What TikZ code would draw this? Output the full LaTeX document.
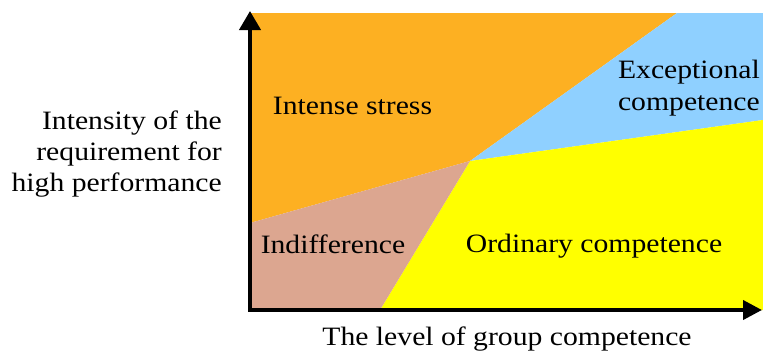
\documentclass[tikz,border=0pt]{standalone}
\usepackage{fontspec}
\setmainfont{Liberation Serif}
\usetikzlibrary{arrows.meta}

\definecolor{stressorange}{HTML}{FDB022}
\definecolor{exceptblue}{HTML}{8FD0FF}
\definecolor{indiffpink}{HTML}{DCA690}
\definecolor{ordyellow}{HTML}{FFFF00}

\tikzset{
  lbl/.style={font=\fontsize{26.5}{31}\selectfont, xscale=1.12, inner sep=0pt, anchor=base},
  axis/.style={line width=4pt, line join=miter,
    {Triangle[length=19pt,width=21pt]}-{Triangle[length=19pt,width=19pt]}},
}

\begin{document}
\begin{tikzpicture}[x=1pt, y=-1pt]
  \useasboundingbox (0,0) rectangle (763,351);

  % corners of the plotting area and the meeting point of the four zones
  \coordinate (O)  at (250,310);
  \coordinate (TL) at (250,13);
  \coordinate (TR) at (763,13);
  \coordinate (BR) at (763,310);
  \coordinate (C)  at (470,161);
  \coordinate (Ltop) at (250,223);
  \coordinate (Tsplit) at (677,13);
  \coordinate (Rsplit) at (763,120);
  \coordinate (Bsplit) at (380,310);

  % zones
  \fill[stressorange] (TL) -- (Tsplit) -- (C) -- (Ltop) -- cycle;
  \fill[exceptblue] (Tsplit) -- (TR) -- (Rsplit) -- (C) -- cycle;
  \fill[ordyellow] (C) -- (Rsplit) -- (BR) -- (Bsplit) -- cycle;
  \fill[indiffpink] (Ltop) -- (C) -- (Bsplit) -- (O) -- cycle;

  % axes
  \coordinate (Ytip) at (250,11);
  \coordinate (Xtip) at (762,310);
  \draw[axis] (Ytip) -- (O) -- (Xtip);

  % zone labels
  \node[lbl] (stress) at (352.5,114) {Intense stress};
  \node[lbl, anchor=base east] (except1) at (760,78) {Exceptional};
  \node[lbl, anchor=base east] (except2) at (760,110) {competence};
  \node[lbl] (indiff) at (333,253) {Indifference};
  \node[lbl] (ordinary) at (594,252) {Ordinary competence};

  % axis labels
  \node[lbl, anchor=base east] (ylab1) at (222,129) {Intensity of the};
  \node[lbl, anchor=base east] (ylab2) at (222,160) {requirement for};
  \node[lbl, anchor=base east] (ylab3) at (222,191) {high performance};
  \node[lbl] (xlab) at (507,345) {The level of group competence};
\end{tikzpicture}
\end{document}
